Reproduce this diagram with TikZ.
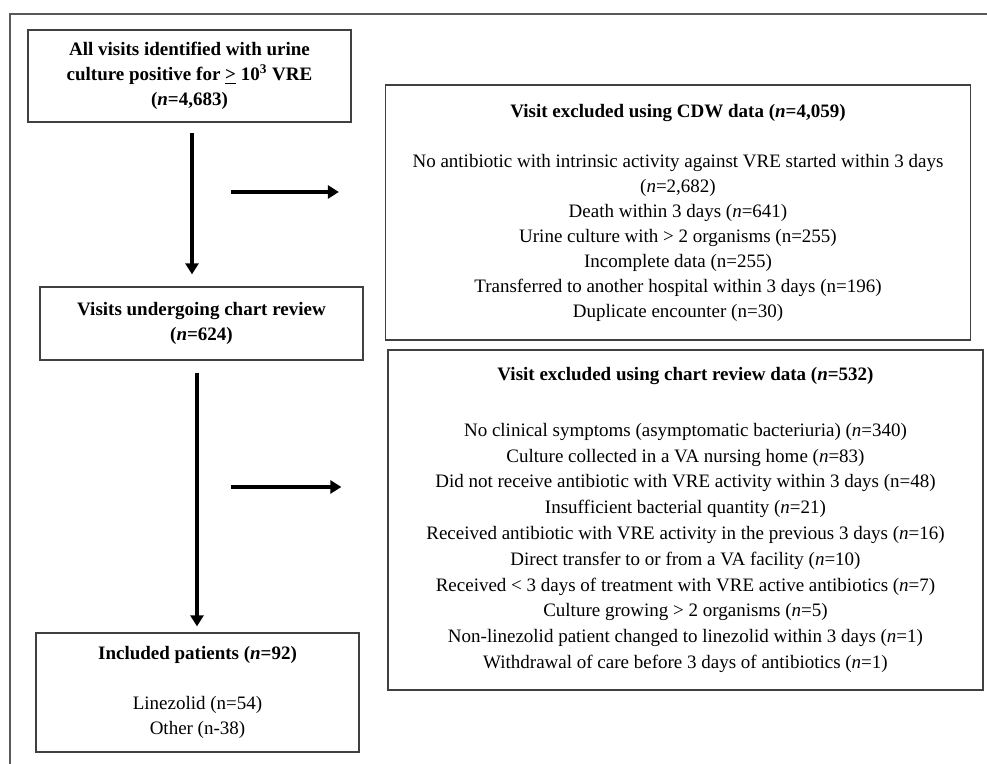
\documentclass[tikz,border=0pt]{standalone}
\usepackage{fontspec}
\setmainfont{Liberation Serif}
\usetikzlibrary{arrows.meta}

\begin{document}
\begin{tikzpicture}[
    x=0.5pt,
    y=-0.5pt,
    line join=miter,
    box/.style={draw=black!75, line width=0.65pt, align=center,
      inner sep=0pt, font=\fontsize{9.5}{12.5}\selectfont},
    arrowline/.style={line width=2pt,
      -{Triangle[length=5.5pt,width=6.5pt]}}
  ]
  \useasboundingbox (0,0) rectangle (987,764);

  % frame
  \draw[black!65, line width=1.2pt] (987,14) -- (10,14) -- (10,764);

  \node[box, minimum width=161.5pt, minimum height=46pt] (all) at (189.5,76)
    {\bfseries All visits identified with urine\\
     \bfseries culture positive for \underline{>} 10\textsuperscript{3} VRE\\
     \bfseries (\textit{n}=4,683)};
  \node[box, minimum width=161.5pt, minimum height=36.5pt] (review) at (201.5,323.5)
    {\bfseries Visits undergoing chart review\\
     \bfseries (\textit{n}=624)};
  \node[box, minimum width=161.5pt, minimum height=59.5pt] (incl) at (197.5,692.5)
    {\bfseries Included patients (\textit{n}=92)\\[12.5pt]
     Linezolid (n=54)\\
     Other (n-38)};

  \node[box, minimum width=292.5pt, minimum height=127.5pt] (cdw) at (678,212.5)
    {\bfseries Visit excluded using CDW data (\textit{n}=4,059)\\[12.5pt]
     No antibiotic with intrinsic activity against VRE started within 3 days\\
     (\textit{n}=2,682)\\
     Death within 3 days (\textit{n}=641)\\
     Urine culture with > 2 organisms (n=255)\\
     Incomplete data (n=255)\\
     Transferred to another hospital within 3 days (n=196)\\
     Duplicate encounter (n=30)};
  \node[box, minimum width=297.5pt, minimum height=170pt,
    font=\fontsize{9.5}{12.9}\selectfont] (chart) at (685.5,520)
    {\bfseries Visit excluded using chart review data (\textit{n}=532)\\[15pt]
     No clinical symptoms (asymptomatic bacteriuria) (\textit{n}=340)\\
     Culture collected in a VA nursing home (\textit{n}=83)\\
     Did not receive antibiotic with VRE activity within 3 days (n=48)\\
     Insufficient bacterial quantity (\textit{n}=21)\\
     Received antibiotic with VRE activity in the previous 3 days (\textit{n}=16)\\
     Direct transfer to or from a VA facility (\textit{n}=10)\\
     Received < 3 days of treatment with VRE active antibiotics (\textit{n}=7)\\
     Culture growing > 2 organisms (\textit{n}=5)\\
     Non-linezolid patient changed to linezolid within 3 days (\textit{n}=1)\\
     Withdrawal of care before 3 days of antibiotics (\textit{n}=1)};

  % downward arrows
  \coordinate (v1) at (192,0);
  \coordinate (v2) at (197,0);
  \draw[arrowline, shorten <=5pt, shorten >=6pt]
    (all.south -| v1) -- (review.north -| v1);
  \draw[arrowline, shorten <=6pt, shorten >=3pt]
    (review.south -| v2) -- (incl.north -| v2);

  % arrows to the exclusions
  \foreach \y/\target in {192/cdw,487/chart}{
    \coordinate (from\target) at (231,\y);
    \draw[arrowline, shorten >=23pt]
      (from\target) -- (from\target -| \target.west);
  }
\end{tikzpicture}
\end{document}
